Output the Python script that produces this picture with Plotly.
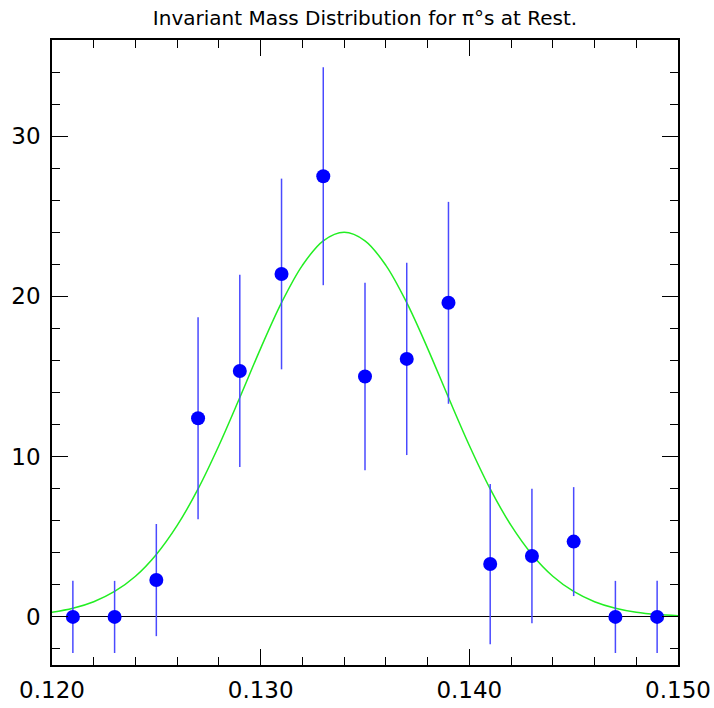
import plotly.graph_objects as go

# Data points (bin centres, counts, symmetric errors)
mass = [0.121, 0.123, 0.125, 0.127, 0.129, 0.131, 0.133, 0.135,
        0.137, 0.139, 0.141, 0.143, 0.145, 0.147, 0.149]
counts = [0.0, 0.0, 2.3, 12.4, 15.35, 21.4, 27.5, 15.0,
          16.1, 19.6, 3.3, 3.8, 4.7, 0.0, 0.0]
errors = [2.25, 2.25, 3.5, 6.3, 6.0, 5.95, 6.8, 5.85,
          6.0, 6.3, 5.0, 4.2, 3.4, 2.25, 2.25]

# Fitted curve, values
fit_x = [0.120, 0.121, 0.122, 0.123, 0.124, 0.125, 0.126, 0.127, 0.128, 0.129,
         0.130, 0.131, 0.132, 0.133, 0.134, 0.135, 0.136, 0.137, 0.138, 0.139,
         0.140, 0.141, 0.142, 0.143, 0.144, 0.145, 0.146, 0.147, 0.148, 0.149, 0.150]
fit_y = [0.29, 0.54, 0.95, 1.59, 2.54, 3.90, 5.71, 7.99, 10.70, 13.69,
         16.76, 19.61, 21.94, 23.47, 24.00, 23.47, 21.94, 19.61, 16.76, 13.69,
         10.70, 7.99, 5.71, 3.90, 2.54, 1.59, 0.95, 0.54, 0.29, 0.15, 0.08]

x_ticks = [0.120, 0.130, 0.140, 0.150]
x_tick_text = ["0.120", "0.130", "0.140", "0.150"]
y_ticks = [0, 10, 20, 30]

font_family = "DejaVu Sans"

fig = go.Figure()
fig.add_trace(go.Scatter(
    x=fit_x, y=fit_y, mode="lines", line=dict(color="#22ee22", width=1.5, shape="spline"),
    showlegend=False, hoverinfo="skip"))
fig.add_trace(go.Scatter(
    x=mass, y=counts, mode="markers",
    marker=dict(color="#0000ff", size=14),
    error_y=dict(type="data", array=errors, visible=True, color="#4a4aff",
                 thickness=1.5, width=0),
    showlegend=False))

axis_common = dict(
    showgrid=False, ticks="inside", mirror="ticks", showline=True, automargin=False,
    linecolor="black", linewidth=1.5, tickcolor="black", ticklen=16, tickwidth=1.2,
    tickfont=dict(family=font_family, size=23, color="black"),
)

fig.update_xaxes(
    range=[0.120, 0.150], tickvals=x_ticks, ticktext=x_tick_text, zeroline=False,
    ticklabelstandoff=4,
    minor=dict(dtick=0.002, ticks="inside", ticklen=8, tickcolor="black", tickwidth=1.2),
    **axis_common)
fig.update_yaxes(
    range=[-3, 36], tickvals=y_ticks, zeroline=True, zerolinecolor="black", zerolinewidth=1.2,
    ticklabelstandoff=5,
    minor=dict(dtick=2, ticks="inside", ticklen=8, tickcolor="black", tickwidth=1.2),
    **axis_common)

fig.update_layout(
    width=714, height=708,
    margin=dict(l=52, r=36, t=40, b=43),
    paper_bgcolor="white", plot_bgcolor="white",
    title=dict(text="Invariant Mass Distribution for π°s at Rest.",
               x=(52 + 678) / 2 / 714, xanchor="center", y=1 - 18 / 708, yanchor="middle",
               font=dict(family=font_family, size=20, color="black")),
)

fig.write_html("out.html", config={"displayModeBar": False},
               post_script="document.body.style.margin='0';")
